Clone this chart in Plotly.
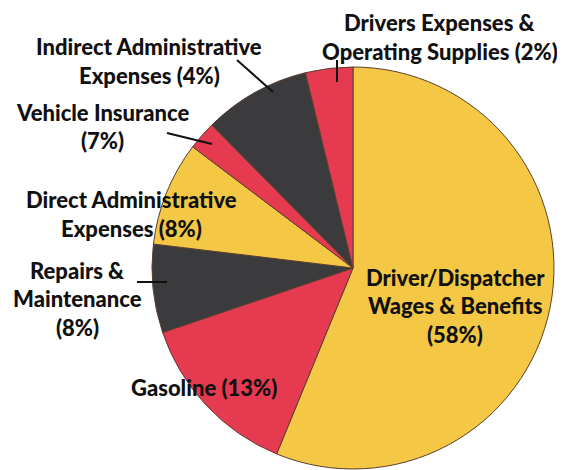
import plotly.graph_objects as go

# Slice categories in clockwise order from 12 o'clock
categories = [
    "Driver/Dispatcher Wages & Benefits",
    "Gasoline",
    "Repairs & Maintenance",
    "Direct Administrative Expenses",
    "Vehicle Insurance",
    "Indirect Administrative Expenses",
    "Drivers Expenses & Operating Supplies",
]
# Slice sizes (percent of circle)
slice_values = [56.2, 13.6, 7.1, 8.4, 2.3, 8.6, 3.8]
# Percentages printed on the labels
printed_pct = ["58%", "13%", "8%", "8%", "7%", "4%", "2%"]
colors = ["#F4C844", "#E63A50", "#3B3B3D", "#F4C844", "#E63A50", "#3B3B3D", "#E63A50"]

# Label lines (text) for each category
label_lines = {
    "Driver/Dispatcher Wages & Benefits": ["Driver/Dispatcher", "Wages & Benefits", "(58%)"],
    "Gasoline": ["Gasoline (13%)"],
    "Repairs & Maintenance": ["Repairs &", "Maintenance", "(8%)"],
    "Direct Administrative Expenses": ["Direct Administrative", "Expenses (8%)"],
    "Vehicle Insurance": ["Vehicle Insurance", "(7%)"],
    "Indirect Administrative Expenses": ["Indirect Administrative", "Expenses (4%)"],
    "Drivers Expenses & Operating Supplies": ["Drivers Expenses &", "Operating Supplies (2%)"],
}

W, H = 565, 470
OFF = 8  # page body margin
def px(x):
    return (x - OFF) / W
def py(y):
    return 1 - (y - OFF) / H

# label anchor (center x, first line center y) in pixels
label_pos = {
    "Driver/Dispatcher Wages & Benefits": (455, 277),
    "Gasoline": (204, 387),
    "Repairs & Maintenance": (77, 270),
    "Direct Administrative Expenses": (131, 200),
    "Vehicle Insurance": (102, 112),
    "Indirect Administrative Expenses": (149, 47),
    "Drivers Expenses & Operating Supplies": (440, 23),
}
line_gap = 28.5

leaders = [
    ((137, 282), (167, 282)),
    ((167, 133), (212, 144)),
    ((237, 60), (273, 92)),
    ((337, 60), (337, 82)),
]

cx, cy, r = 353, 268, 201

fig = go.Figure(go.Pie(
    labels=categories,
    values=slice_values,
    sort=False,
    direction="clockwise",
    rotation=0,
    marker=dict(colors=colors, line=dict(color="#5A4030", width=1)),
    textinfo="none",
    hoverinfo="label",
    showlegend=False,
    domain=dict(x=[px(cx - r), px(cx + r)], y=[py(cy + r), py(cy - r)]),
))

annotations = []
for cat in categories:
    x0, y0 = label_pos[cat]
    for i, line in enumerate(label_lines[cat]):
        annotations.append(dict(
            x=px(x0), y=py(y0 + i * line_gap), xref="paper", yref="paper",
            text=line, showarrow=False, xanchor="center", yanchor="middle",
            font=dict(family="Lato", size=22, color="#111111", weight=900),
        ))

shapes = []
for (a, b) in leaders:
    shapes.append(dict(type="line", xref="paper", yref="paper",
                       x0=px(a[0]), y0=py(a[1]), x1=px(b[0]), y1=py(b[1]),
                       line=dict(color="#111111", width=2)))

fig.update_layout(
    width=W, height=H,
    margin=dict(l=0, r=0, t=0, b=0),
    paper_bgcolor="white", plot_bgcolor="white",
    annotations=annotations, shapes=shapes,
)

fig.write_html("out.html")
